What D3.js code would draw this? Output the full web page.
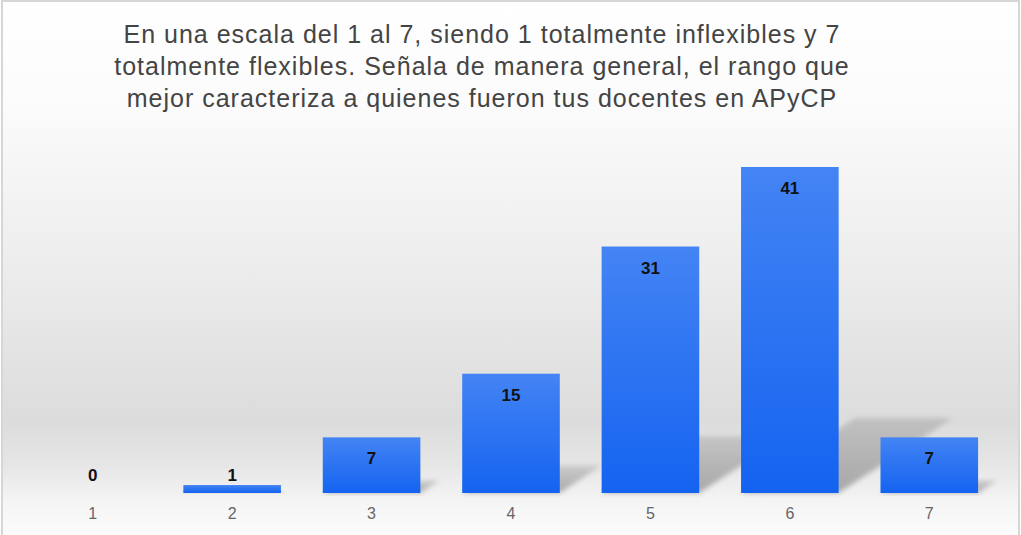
<!DOCTYPE html>
<html>
<head>
<meta charset="utf-8">
<script src="https://cdn.jsdelivr.net/npm/d3@7"></script>
<style>
  body { margin: 0; background: #fff; }
  svg { display: block; font-family: "Liberation Sans", Arial, sans-serif; }
</style>
</head>
<body>
<svg id="chart" width="1021" height="535"></svg>
<script>
const categories = ['1', '2', '3', '4', '5', '6', '7'];
const values = [0, 1, 7, 15, 31, 41, 7];
const titleLines = [
  'En una escala del 1 al 7, siendo 1 totalmente inflexibles y 7',
  'totalmente flexibles. Señala de manera general, el rango que',
  'mejor caracteriza a quienes fueron tus docentes en APyCP'
];

const width = 1021;
const height = 535;
const margin = {top: 90, left: 23, right: 22, bottom: 42};
const baseline = height - margin.bottom;

const svg = d3.select('#chart');
const defs = svg.append('defs');

// background fade: white on top, grey behind the bars, light again below
const bg = defs.append('linearGradient')
  .attr('id', 'bg').attr('x1', 0).attr('y1', 0).attr('x2', 0).attr('y2', 1);
[[0, '#ffffff'], [0.2, '#fbfbfb'], [0.5, '#ececec'], [0.78, '#dcdcdc'],
 [0.86, '#e6e6e6'], [0.93, '#f5f5f5'], [1, '#fdfdfd']]
  .forEach(([o, c]) => bg.append('stop').attr('offset', o).attr('stop-color', c));

const barGrad = defs.append('linearGradient')
  .attr('id', 'barGrad').attr('x1', 0).attr('y1', 0).attr('x2', 0).attr('y2', 1);
barGrad.append('stop').attr('offset', 0).attr('stop-color', '#4484f4');
barGrad.append('stop').attr('offset', 1).attr('stop-color', '#1463f0');

const shadowGrad = defs.append('linearGradient')
  .attr('id', 'shadowGrad').attr('x1', 0).attr('y1', 1).attr('x2', 0).attr('y2', 0);
shadowGrad.append('stop').attr('offset', 0).attr('stop-color', '#000').attr('stop-opacity', 0.3);
shadowGrad.append('stop').attr('offset', 1).attr('stop-color', '#000').attr('stop-opacity', 0.12);

defs.append('filter').attr('id', 'blur')
  .attr('x', '-20%').attr('y', '-20%').attr('width', '140%').attr('height', '140%')
  .append('feGaussianBlur').attr('stdDeviation', 2.5);

svg.append('rect')
  .attr('x', 2).attr('y', 1).attr('width', width - 4).attr('height', height + 5)
  .attr('fill', 'url(#bg)')
  .attr('stroke', '#d6d6d6').attr('stroke-width', 2);

const x = d3.scaleBand()
  .domain(categories)
  .range([margin.left, width - margin.right])
  .paddingInner(0.3)
  .paddingOuter(0.15);

const y = d3.scaleLinear()
  .domain([0, 41])
  .range([baseline, 167]);

// floor shadows, cast back to the right
svg.append('g')
  .selectAll('path')
  .data(categories)
  .join('path')
  .attr('filter', 'url(#blur)')
  .attr('fill', 'url(#shadowGrad)')
  .attr('d', (c, i) => {
    const h = baseline - y(values[i]);
    const x0 = x(c);
    const x1 = x0 + x.bandwidth();
    const dx = h * 0.35;
    const top = baseline - h * 0.23;
    return `M${x0},${baseline}L${x1},${baseline}L${x1 + dx},${top}L${x0 + dx},${top}Z`;
  });

svg.append('g')
  .selectAll('rect')
  .data(categories)
  .join('rect')
  .attr('x', c => x(c))
  .attr('y', (c, i) => y(values[i]))
  .attr('width', x.bandwidth())
  .attr('height', (c, i) => baseline - y(values[i]))
  .attr('fill', 'url(#barGrad)');

svg.append('g')
  .selectAll('text')
  .data(categories)
  .join('text')
  .attr('x', c => x(c) + x.bandwidth() / 2)
  .attr('y', (c, i) => {
    const top = y(values[i]);
    return baseline - top > 30 ? top + 27 : Math.min(top, baseline - 8) - 4;
  })
  .attr('text-anchor', 'middle')
  .attr('font-size', 17)
  .attr('font-weight', 'bold')
  .attr('fill', '#111')
  .text((c, i) => values[i]);

const xAxis = d3.axisBottom(x).tickSize(0).tickPadding(15);
const axisG = svg.append('g')
  .attr('transform', `translate(0,${baseline})`)
  .call(xAxis);
axisG.select('.domain').remove();
axisG.selectAll('text')
  .attr('font-size', 16)
  .attr('fill', '#666')
  .attr('font-family', '"Liberation Sans", Arial, sans-serif');

svg.append('g')
  .selectAll('text')
  .data(titleLines)
  .join('text')
  .attr('x', 482)
  .attr('y', (d, i) => 43 + i * 32)
  .attr('text-anchor', 'middle')
  .attr('font-size', 25)
  .attr('letter-spacing', 1)
  .attr('fill', '#444')
  .text(d => d);
</script>
</body>
</html>
